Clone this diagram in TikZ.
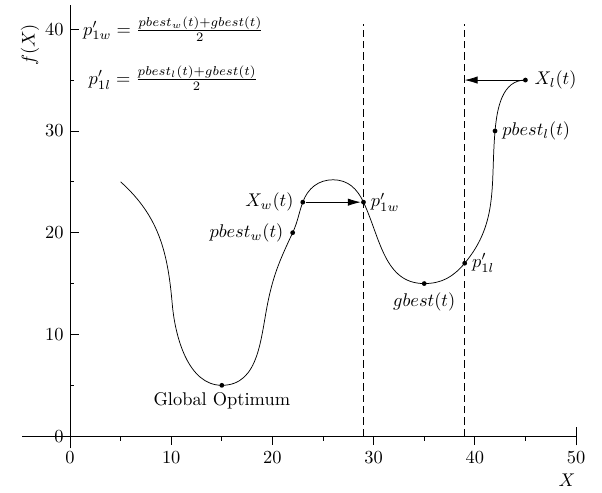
\documentclass[tikz,border=0pt]{standalone}
\usepackage{amsmath,amssymb}
\usepackage{tikz}
\usetikzlibrary{arrows.meta,positioning}
\tikzset{
  ar/.style={-{Latex[length=7pt,width=4pt]}},
  pdot/.style={circle,fill=black,inner sep=0pt,minimum size=2.6pt},
  guide/.style={dash pattern=on 4pt off 2.2pt},
  lbl/.style={inner sep=2pt}
}

\begin{document}
\begin{tikzpicture}[x=5.5pt,y=5.53pt]
\useasboundingbox (-6.92,-5.51) rectangle (52.57,42.87);
% axes
\draw (-4.7,0)--(50,0);
\draw (0,-1.2)--(0,42.4);
\draw (50,-0.9)--(50,0.9);
\foreach \t in {0,10,...,50} {
  \draw (\t,0)--(\t,-0.9) node[below] (xt\t) {$\t$};
}
\foreach \t in {5,15,...,45} \draw (\t,0)--(\t,-0.5);
\foreach \t in {0,10,...,40} {
  \draw (0,\t)--(0.9,\t);
  \node[left] (yt\t) at (0,\t) {$\t$};
}
\foreach \t in {5,15,...,35} \draw (0,\t)--(0.4,\t);
\node[rotate=90] (ylab) at (-3.95,38.45) {$f(X)$};
\node (xlab) at (49.1,-4.33) {$X$};
% guides
\draw[guide] (29,0)--(29,40.5);
\draw[guide] (39,0)--(39,40.5);
% fitness curve
\draw (5,25) to[out=-42,in=95] (10.1,13)
  to[out=-85,in=180,looseness=0.9] (15,5)
  to[out=0,in=-102] (19.6,13.4)
  to[out=78,in=-115] (22,20)
  to[out=65,in=-110] (23,23)
  to[out=70,in=180] (26,25.2)
  to[out=0,in=115] (29,23)
  to[out=-65,in=180] (35,15)
  to[out=0,in=-130] (39,17)
  to[out=50,in=-95] (42,30)
  to[out=85,in=180] (45,35);
\node[pdot] (gopt) at (15,5) {};
\node[pdot] (pbw) at (22,20) {};
\node[pdot] (xw) at (23,23) {};
\node[pdot] (pw) at (29,23) {};
\node[pdot] (gb) at (35,15) {};
\node[pdot] (pl) at (39,17) {};
\node[pdot] (pbl) at (42,30) {};
\node[pdot] (xl) at (45,35) {};
\coordinate (hitl) at (39,35);
\node[below=-1pt of gopt] (goptlab) {Global Optimum};
\node[left=0pt of pbw] (pbwlab) {$pbest_w(t)$};
\node[left=0pt of xw] (xwlab) {$X_w(t)$};
\node[right=-1pt of pw] (pwlab) {$p'_{1w}$};
\node[below=0pt of gb] (gblab) {$gbest(t)$};
\node[right=-1pt of pl] (pllab) {$p'_{1l}$};
\node[right=-1pt of pbl] (pbllab) {$pbest_l(t)$};
\node[right=0pt of xl] (xllab) {$X_l(t)$};
\draw[ar] (xw)--(pw);
\draw[ar] (xl)--(hitl);
% update rules
\node (eqw) at (10.2,40) {$p'_{1w}=\frac{pbest_w(t)+gbest(t)}{2}$};
\node (eql) at (10.2,35.2) {$p'_{1l}=\frac{pbest_l(t)+gbest(t)}{2}$};
\end{tikzpicture}
\end{document}
